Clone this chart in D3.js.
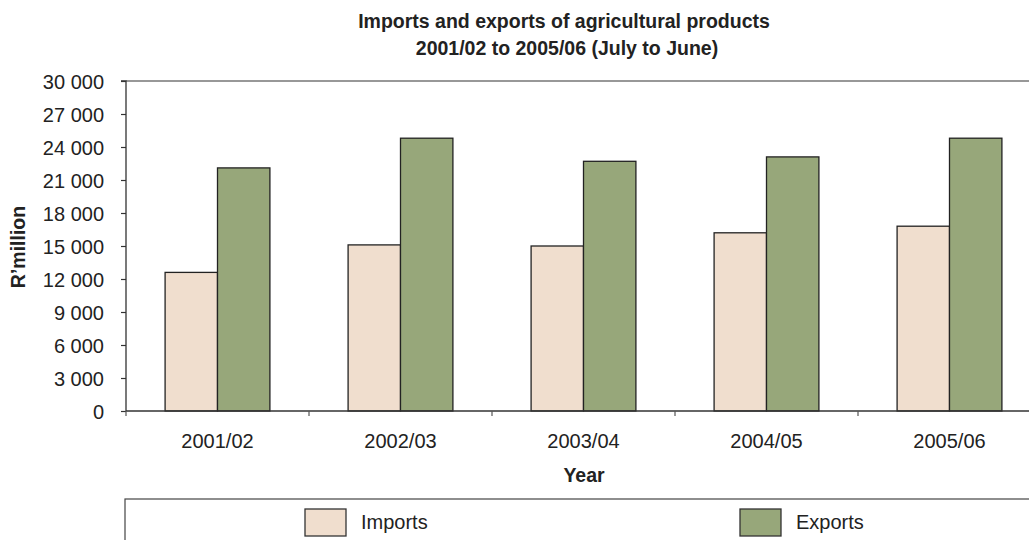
<!DOCTYPE html>
<html>
<head>
<meta charset="utf-8">
<script src="https://cdn.jsdelivr.net/npm/d3@7"></script>
<style>
  body { margin: 0; background: #fff; }
  svg { display: block; font-family: "Liberation Sans", Arial, Helvetica, sans-serif; }
</style>
</head>
<body>
<svg id="chart" width="1029" height="540"></svg>
<script>
const categories = ["2001/02", "2002/03", "2003/04", "2004/05", "2005/06"];
const series = ["Imports", "Exports"];
const imports = [12600, 15100, 15000, 16200, 16800];
const exports = [22100, 24800, 22700, 23100, 24800];
const yTicks = [0, 3000, 6000, 9000, 12000, 15000, 18000, 21000, 24000, 27000, 30000];
const colors = { Imports: "#f0dece", Exports: "#97a77a" };

(function () {
const svg = d3.select("#chart");
const pLeft = 126, pRight = 1041, pTop = 81, pBottom = 411;

const x0 = d3.scaleBand().domain(categories).range([pLeft, pRight]).paddingInner(0).paddingOuter(0);
const x1 = d3.scaleBand().domain(series).range([0, x0.bandwidth()]).paddingInner(0).paddingOuter(0.746);
const y = d3.scaleLinear().domain([0, 30000]).range([pBottom, pTop]);

const fmt = v => v === 0 ? "0" : d3.format(",")(v).replace(/,/g, " ");

// plot frame top line
svg.append("line").attr("x1", pLeft).attr("x2", pRight).attr("y1", pTop).attr("y2", pTop)
  .attr("stroke", "#333").attr("stroke-width", 1.2);

// bars
const data = categories.map((c, i) => ({ cat: c, Imports: imports[i], Exports: exports[i] }));
const g = svg.append("g");
data.forEach(d => {
  series.forEach(s => {
    g.append("rect")
      .attr("x", x0(d.cat) + x1(s))
      .attr("y", y(d[s]))
      .attr("width", x1.bandwidth())
      .attr("height", y(0) - y(d[s]))
      .attr("fill", colors[s])
      .attr("stroke", "#222")
      .attr("stroke-width", 1.3);
  });
});

// y axis
const yAxis = d3.axisLeft(y).tickValues(yTicks).tickSize(5).tickPadding(17).tickFormat(fmt);
const ya = svg.append("g").attr("transform", `translate(${pLeft},0)`).call(yAxis);
ya.select(".domain").attr("stroke", "#333").attr("stroke-width", 1.3).attr("d", `M-5,${pTop}H0V${pBottom}`);
ya.selectAll(".tick line").attr("stroke", "#333").attr("stroke-width", 1.2);
ya.selectAll("text").attr("font-size", 20).attr("fill", "#222")
  .attr("font-family", "Liberation Sans, Arial, sans-serif").attr("dy", "0.35em");

// x axis
const xa = svg.append("g").attr("transform", `translate(0,${pBottom})`);
xa.append("line").attr("x1", pLeft).attr("x2", pRight).attr("y1", 0).attr("y2", 0)
  .attr("stroke", "#333").attr("stroke-width", 1.3);
const boundaries = categories.map(c => x0(c)).concat([pRight]);
xa.selectAll("line.tk").data(boundaries).enter().append("line").attr("class", "tk")
  .attr("x1", d => d).attr("x2", d => d).attr("y1", 0).attr("y2", 5)
  .attr("stroke", "#555").attr("stroke-width", 1.2);
xa.selectAll("text.cl").data(categories).enter().append("text").attr("class", "cl")
  .attr("x", d => x0(d) + x0.bandwidth() / 2).attr("y", 37)
  .attr("text-anchor", "middle").attr("font-size", 20).attr("fill", "#222").text(d => d);

// axis titles
svg.append("text").attr("x", 584).attr("y", 482).attr("text-anchor", "middle")
  .attr("font-size", 19.5).attr("font-weight", "bold").attr("fill", "#222").text("Year");
svg.append("text").attr("transform", "translate(25,247) rotate(-90)").attr("text-anchor", "middle")
  .attr("font-size", 19.5).attr("font-weight", "bold").attr("fill", "#222").text("R’million");

// title
svg.append("text").attr("x", 564).attr("y", 28).attr("text-anchor", "middle")
  .attr("font-size", 19.5).attr("font-weight", "bold").attr("fill", "#222")
  .text("Imports and exports of agricultural products");
svg.append("text").attr("x", 567).attr("y", 55).attr("text-anchor", "middle")
  .attr("font-size", 19.5).attr("font-weight", "bold").attr("fill", "#222")
  .text("2001/02 to 2005/06 (July to June)");

// legend
const lg = svg.append("g");
lg.append("rect").attr("x", 125).attr("y", 499).attr("width", 1000).attr("height", 100)
  .attr("fill", "none").attr("stroke", "#444").attr("stroke-width", 1.2);
const legendItems = [
  { s: "Imports", x: 305 },
  { s: "Exports", x: 740 }
];
legendItems.forEach(it => {
  lg.append("rect").attr("x", it.x).attr("y", 509).attr("width", 41).attr("height", 27)
    .attr("fill", colors[it.s]).attr("stroke", "#333").attr("stroke-width", 1.3);
  lg.append("text").attr("x", it.x + 56).attr("y", 529).attr("font-size", 20)
    .attr("fill", "#222").text(it.s);
});
})();
</script>
</body>
</html>
